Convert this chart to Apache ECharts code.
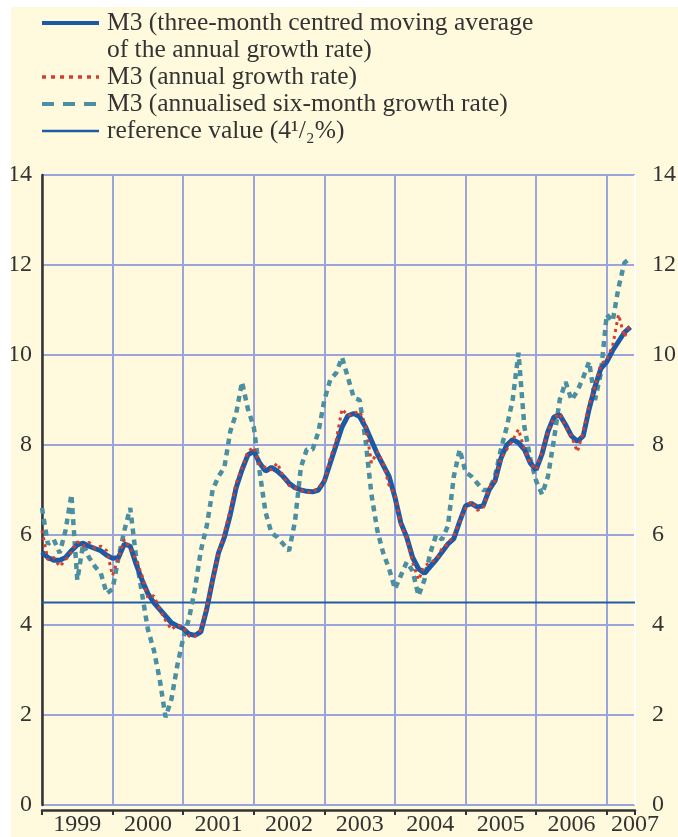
<!DOCTYPE html>
<html>
<head>
<meta charset="utf-8">
<script src="https://cdn.jsdelivr.net/npm/echarts@6.0.0/dist/echarts.min.js"></script>
<style>
  html, body { margin: 0; padding: 0; background: #ffffff; }
  #chart { position: absolute; left: 11px; top: 7px; width: 667px; height: 830px; background: #fffadd; }
</style>
</head>
<body>
<div id="chart"></div>
<script>
// --- DATA (monthly, index 0 = Jan 1999) ---
const YEARS = ['1999', '2000', '2001', '2002', '2003', '2004', '2005', '2006', '2007'];

const M3_3MMA = [
  5.62, 5.5, 5.44, 5.44, 5.5, 5.65, 5.78, 5.82, 5.75, 5.7,
  5.65, 5.55, 5.48, 5.5, 5.8, 5.75, 5.35, 5.0, 4.7, 4.5,
  4.35, 4.2, 4.05, 3.98, 3.92, 3.8, 3.77, 3.85, 4.35, 5.0,
  5.6, 5.95, 6.45, 7.05, 7.45, 7.78, 7.86, 7.6, 7.42, 7.5,
  7.42, 7.3, 7.15, 7.05, 7.0, 6.97, 6.96, 7.0, 7.2, 7.6,
  8.0, 8.4, 8.65, 8.7, 8.63, 8.4, 8.1, 7.8, 7.55, 7.3,
  6.84, 6.27, 5.95, 5.5, 5.25, 5.15, 5.3, 5.45, 5.62, 5.8,
  5.92, 6.3, 6.65, 6.7, 6.62, 6.65, 7.0, 7.2, 7.7, 8.0,
  8.12, 8.05, 7.9, 7.6, 7.45, 7.8, 8.3, 8.62, 8.67, 8.45,
  8.2, 8.08, 8.2, 8.8, 9.3, 9.7, 9.85, 10.1, 10.3, 10.5,
  10.62
];

const M3_ANNUAL = [
  6.1, 5.45, 5.5, 5.3, 5.45, 5.62, 5.85, 5.75, 5.84, 5.7,
  5.75, 5.65, 5.1, 5.5, 5.9, 5.7, 5.45, 5.1, 4.6, 4.65,
  4.35, 4.1, 3.9, 4.0, 3.95, 3.75, 3.75, 3.9, 4.4, 5.0,
  5.6, 6.05, 6.55, 7.15, 7.5, 7.85, 7.95, 7.55, 7.5, 7.45,
  7.6, 7.3, 7.1, 7.05, 7.0, 6.95, 6.95, 7.05, 7.2, 7.7,
  8.1, 8.8, 8.65, 8.7, 8.75, 8.45, 7.6, 7.85, 7.6, 7.1,
  6.9, 6.2, 5.95, 5.4, 5.0, 5.3, 5.4, 5.45, 5.7, 5.8,
  6.0, 6.3, 6.6, 6.75, 6.55, 6.6, 7.05, 7.2, 7.7, 7.9,
  8.1, 8.35, 7.9, 7.6, 7.45, 7.85, 8.3, 8.6, 8.7, 8.4,
  8.2, 7.85, 8.3, 8.9, 9.3, 9.8, 9.9, 10.2, 10.9, 10.4,
  10.7
];

const M3_SIX_MONTH = [
  6.6, 5.8, 5.9, 5.6, 6.1, 6.9, 5.0, 5.8, 5.5, 5.3,
  5.15, 4.7, 4.8, 5.5, 6.1, 6.6, 5.5, 4.7, 3.9, 3.45,
  2.8, 1.95, 2.35, 3.1, 3.7, 4.15, 4.8, 5.65, 6.2, 7.0,
  7.3, 7.5, 8.3, 8.7, 9.4, 8.8, 8.4, 7.4, 6.5, 6.05,
  5.95, 5.8, 5.65, 6.3, 7.5, 7.9, 7.9, 8.3, 9.0, 9.45,
  9.6, 9.95, 9.5, 9.05, 9.0, 8.1, 6.9, 6.1, 5.6, 5.25,
  4.8, 5.1, 5.4, 5.2, 4.65, 5.0, 5.6, 6.0, 5.9, 6.2,
  7.3, 7.9, 7.4, 7.3, 7.15, 7.0, 7.0, 7.3, 7.9, 8.4,
  9.0, 10.05, 8.4, 7.7, 7.2, 6.9, 7.3, 8.1, 9.0, 9.4,
  9.0, 9.2, 9.5, 9.85, 9.0, 9.6, 10.9, 10.75, 11.5, 12.05,
  12.15
];

const REF_VALUE = 4.5;
const X_MAX = 100.8; // axis runs a little past May 2007

// --- STYLE ---
const FONT = '"Liberation Serif", "Times New Roman", serif';
const COLORS = {
  mma: '#1b5aa8',
  annual: '#d23f2f',
  six: '#4b8fa2',
  ref: '#1f5ca6',
  grid: '#9aa6db',
  axis: '#333333',
  text: '#333333'
};

const NAMES = {
  mma: 'M3 (three-month centred moving average\nof the annual growth rate)',
  annual: 'M3 (annual growth rate)',
  six: 'M3 (annualised six-month growth rate)',
  ref: 'reference value (4\u00b9/\u2082%)'
};

const toPairs = arr => arr.map((v, i) => [i, v]);

// year boundary lines; the edge one at the right is white in the original
const xGridColors = YEARS.map(() => COLORS.grid).concat(['#ffffff']);

// line-only legend icons (no marker in the middle)
const noMarker = { opacity: 0, borderWidth: 0 };

const chart = echarts.init(document.getElementById('chart'));

chart.setOption({
  animation: false,
  grid: { left: 31, right: 43, top: 168, bottom: 32, outerBoundsMode: 'none', containLabel: false },
  legend: {
    orient: 'vertical',
    left: 29,
    top: -24.5,
    padding: 0,
    itemGap: 0,
    itemWidth: 57,
    itemHeight: 14,
    selectedMode: false,
    // blank first line keeps the icon level with the first text line of the two-line entry
    formatter: name => (name === NAMES.mma ? '\n' + name : name),
    textStyle: { fontFamily: FONT, fontSize: 25.5, lineHeight: 27, color: COLORS.text, padding: [0, 0, 0, 3] },
    data: [
      { name: NAMES.mma, itemStyle: noMarker, lineStyle: { width: 4 } },
      { name: NAMES.annual, itemStyle: noMarker, lineStyle: { width: 3.5, type: [4, 5] } },
      { name: NAMES.six, itemStyle: noMarker, lineStyle: { width: 4, type: [12, 9] } },
      { name: NAMES.ref, itemStyle: noMarker, lineStyle: { width: 2.5 } }
    ]
  },
  xAxis: [
    {
      type: 'value', min: 0, max: X_MAX, interval: 12,
      position: 'bottom', offset: 5,
      axisLine: { show: true, onZero: false, lineStyle: { color: COLORS.axis, width: 2.5 } },
      axisTick: { show: true, length: 5, lineStyle: { color: COLORS.axis, width: 2 } },
      axisLabel: { show: false },
      splitLine: { show: true, lineStyle: { color: xGridColors, width: 2 } }
    },
    {
      // labels sit mid-year, under each bracket
      type: 'value', min: 0, max: X_MAX, interval: 6,
      position: 'bottom', offset: 5,
      axisLine: { show: false },
      axisTick: { show: false },
      splitLine: { show: false },
      axisLabel: {
        margin: 3,
        fontFamily: FONT, fontSize: 24, color: COLORS.text,
        formatter: v => {
          if (v === X_MAX) return YEARS[YEARS.length - 1];
          return v % 12 === 6 ? YEARS[(v - 6) / 12] : '';
        }
      }
    }
  ],
  yAxis: [
    {
      type: 'value', min: 0, max: 14, interval: 2, position: 'left',
      axisLine: { show: true, lineStyle: { color: COLORS.axis, width: 2.5 } },
      axisTick: { show: false },
      axisLabel: { margin: 10, fontFamily: FONT, fontSize: 24, color: COLORS.text },
      splitLine: { show: true, lineStyle: { color: COLORS.grid, width: 2 } }
    },
    {
      type: 'value', min: 0, max: 14, interval: 2, position: 'right',
      axisLine: { show: false },
      axisTick: { show: false },
      axisLabel: { margin: 17, fontFamily: FONT, fontSize: 24, color: COLORS.text },
      splitLine: { show: false }
    }
  ],
  series: [
    {
      name: NAMES.mma, type: 'line', data: toPairs(M3_3MMA),
      symbol: 'none', z: 4,
      lineStyle: { color: COLORS.mma, width: 5 },
      itemStyle: { color: COLORS.mma }
    },
    {
      name: NAMES.annual, type: 'line', data: toPairs(M3_ANNUAL),
      symbol: 'none', z: 5,
      lineStyle: { color: COLORS.annual, width: 3, type: [3, 4] },
      itemStyle: { color: COLORS.annual }
    },
    {
      name: NAMES.six, type: 'line', data: toPairs(M3_SIX_MONTH),
      symbol: 'none', z: 3,
      lineStyle: { color: COLORS.six, width: 4.5, type: [6, 5] },
      itemStyle: { color: COLORS.six }
    },
    {
      name: NAMES.ref, type: 'line', data: [[0, REF_VALUE], [X_MAX, REF_VALUE]],
      symbol: 'none', z: 2,
      lineStyle: { color: COLORS.ref, width: 2.2 },
      itemStyle: { color: COLORS.ref }
    }
  ]
});
</script>
</body>
</html>
